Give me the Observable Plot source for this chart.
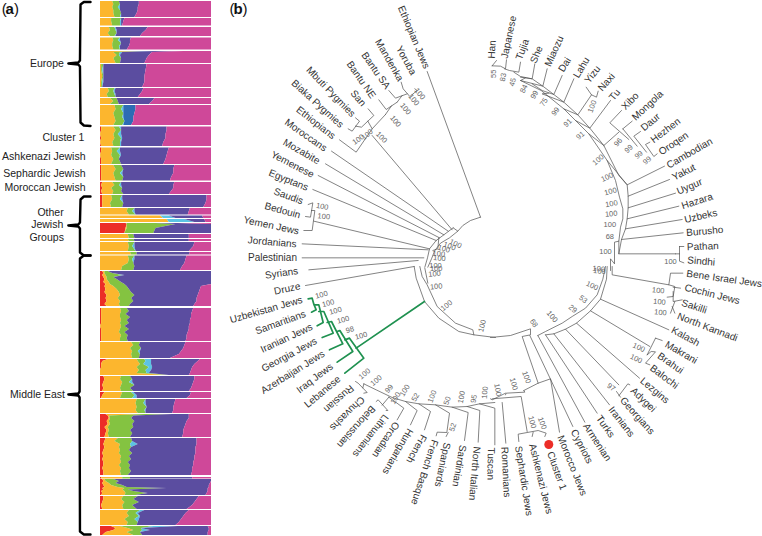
<!DOCTYPE html>
<html><head><meta charset="utf-8">
<script src="https://cdn.jsdelivr.net/npm/d3@7"></script>
<script src="https://cdn.jsdelivr.net/npm/@observablehq/plot@0.6"></script>
<style>html,body{margin:0;padding:0;background:#fff}#c{display:flex;width:762px;height:536px;overflow:hidden}svg{display:block;flex:none;overflow:visible}</style>
</head><body><div id="c"></div>
<script>
// ---------- panel (a): ancestry shares. Row = [y, red, orange, green, cyan, purple] cumulative %, pink fills to 100
const components = ["K1","K2","K3","K4","K5","K6","K7"];
const componentColors = ["#ec2d27","#fcb62e","#84c341","#5cc3e3","#2d6cb4","#5b4da0","#cf4899"];
const blocks = [
 [[1,0,11,17,17,35],[4,0,12,18,18,35],[7,0,11,16,18,34],[10,0,12,18,18,34],[13,0,12,19,19,33],[17,0,13,18,19,31]],
 [[18,0,10,19,19,22],[21,0,10,18,19,21],[25.5,0,11,18,19,20]],
 [[27,0,8,13,14,43],[30,0,9,14,15,41],[33,0,7,15,15,38],[36,0,9,13,14,36]],
 [[37.5,0,11,18,18,28],[40,0,12,16,18,27],[43,0,11,19,19,27],[46,0,11,17,18,26],[49.5,0,12,18,18,24]],
 [[51,0,39,39,50,75],[52,0,12,18,20,47],[55,0,15,17,18,44],[58,0,12,19,19,42],[63,0,14,18,18,40]],
 [[64,0,1,3,3,42],[70,0,1,2,3,41],[76,0,2,3,3,40],[82,0,1,2,3,40],[87,0,1,2,2,38]],
 [[88,0,7,13,14,39],[91,0,8,12,13,38],[94,0,6,13,14,36],[97,0,7,14,14,34]],
 [[98,0,9,15,15,49],[101,0,12,16,16,47],[104,0,9,17,17,44]],
 [[105,0,13,21,21,32],[109,0,14,19,21,32],[113,0,12,21,21,31],[117,0,13,20,21,30],[121,0,14,22,22,30],[125,0,12,20,21,28]],
 [[126.5,1,12,17,19,60],[130,1,14,19,19,60],[134,0,12,16,19,59],[138,1,13,19,20,59],[142,0,11,18,19,57],[146,1,12,18,19,56]],
 [[147.5,1,10,18,18,62],[151,1,11,15,18,61],[155,0,10,18,19,60],[159,1,12,17,17,59],[164,1,10,19,19,57]],
 [[165,1,12,19,19,67],[169,1,14,21,21,66],[173,1,12,18,20,66],[177,1,13,21,21,64],[180.5,1,14,20,20,63]],
 [[182,2,11,19,19,67],[185,1,13,17,19,66],[188,2,10,20,20,66],[191,1,12,19,19,64],[194,2,11,21,21,62]],
 [[195,2,10,20,20,96],[199,2,11,18,20,96],[203,2,9,21,21,95],[207,2,10,20,20,93]],
 [[208,0,25,31,31,81],[211,0,24,29,31,80],[214.5,0,26,32,32,79]],
 [[215.5,0,54,54,62,92],[218,0,57,57,68,93]],
 [[219,0,60,60,76,94],[222,0,62,62,85,95]],
 [[223,23,24,50,50,70],[224,24,24,68,68,100],[228,23,24,50,50,100],[233,22,22,48,48,100]],
 [[234,0,25,30,30,80],[238,0,26,31,31,80]],
 [[239,0,25,30,30,80],[241,0,26,31,31,80]],
 [[242,0,25,31,31,85],[246,0,26,29,31,84],[251,0,25,32,32,80]],
 [[252,0,27,33,33,81],[254.5,0,28,33,33,80]],
 [[255.5,0,25,31,31,78],[259,0,26,29,31,77],[263,0,25,30,30,76],[266,0,20,31,31,74],[270,0,19,30,30,72]],
 [[271,2,4,7,7,100],[273,3,4,11,11,100],[275,2,5,20,22,100],[277,3,6,12,12,100],[279,4,6,15,15,100],[282,3,8,19,19,100],[284,5,9,22,22,100],[286,4,12,24,24,91],[289,5,15,26,26,90],[292,4,17,28,28,89],[295,6,18,31,31,88],[298,5,16,28,28,87],[301,6,18,30,30,87],[304,4,17,27,27,85],[306,6,18,26,26,84]],
 [[308,1,18,24,24,84],[311,1,19,26,26,83],[314,1,18,23,23,82],[317,1,18,27,27,82],[320,1,19,24,24,81],[323,1,18,26,26,81],[326,0,19,22,22,80],[329,1,18,26,26,80],[332,1,17,22,22,79],[335,1,19,25,25,78],[338,1,18,24,24,78],[341,1,18,25,25,77]],
 [[342,0,28,36,36,77],[345,0,30,35,35,76],[348,0,27,37,37,75],[351,0,29,34,36,73],[354,0,28,36,36,71],[358,0,29,35,35,63]],
 [[359,7,33,40,46,90],[361,2,34,41,46,88],[364,1,36,39,46,85],[367,1,33,44,47,83],[370,0,35,41,46,82],[373,0,33,42,44,81],[375,0,60,62,62,80]],
 [[376,3,19,27,27,85],[379,4,18,29,29,85],[382,3,20,26,29,84],[385,2,19,31,31,83],[388,3,18,27,27,82],[391,2,19,30,30,80]],
 [[392,4,20,28,30,82],[395,2,19,31,33,81],[398,1,18,29,33,78]],
 [[399,0,33,41,41,68],[403,0,32,39,41,67],[407,0,33,42,42,66],[410,0,32,40,41,66],[413,0,34,41,41,65]],
 [[414,5,40,65,65,80],[415.5,7,8,30,30,80],[418,8,9,28,28,80],[421,6,8,31,31,78],[424,7,9,29,29,77],[427,4,7,30,30,76],[430,6,8,27,27,75],[433,5,7,29,29,75],[437,4,8,27,27,74]],
 [[438,5,16,28,28,87],[441,4,13,29,29,87],[444,3,18,27,34,87],[447,4,17,28,28,86],[450,3,18,26,26,86],[453,2,17,29,29,86],[456,3,19,26,26,85],[459,2,18,28,28,85],[462,3,19,25,25,84],[465,3,17,27,27,84],[468,2,19,26,26,83],[471,3,18,28,28,83],[475,3,19,25,25,82]],
 [[477,1,20,27,27,83],[478.5,1,20,27,27,83]],
 [[479,2,4,12,12,100],[481,3,5,17,17,100],[483,2,8,14,14,99],[485,3,10,20,20,98],[487,4,16,24,24,98],[488,2,22,60,60,97],[489.5,3,20,25,25,97],[491,1,22,30,30,97],[493,2,23,43,43,96],[495,1,22,32,32,95]],
 [[496,3,21,34,34,89],[499,3,19,30,30,87],[502,2,22,35,35,85],[505,1,20,29,29,83],[509,2,21,33,33,78]],
 [[510,0,26,36,40,80],[513,0,24,32,34,77],[516,0,26,35,36,75],[519,0,22,31,35,73],[522,0,25,34,34,71],[525,0,24,33,33,68]],
 [[526,10,18,48,70,97],[528,14,25,37,37,98],[530,12,30,38,45,98],[532,5,24,36,36,97],[535,2,30,38,38,97]]
];
const blueBlock = [8];
const barLabels = ["Europe","Cluster 1","Ashkenazi Jewish","Sephardic Jewish","Moroccan Jewish","Middle East"];
const barLabelX = [-33,-14.5,-13.5,-13.5,-13.5,-32];
const barLabelY = [63,137,156,173,187,394];
const groupLines = ["Other","Jewish","Groups"];
const groupLineX = [-45,-48,-48.5];
const groupLineY = [212,224,237];
const braces = [
 [[-9,1.5],[-15,1.5],[-18,4],[-18.5,60],[-20,62],[-29,63],[-20,64],[-18.5,66],[-18,122],[-15,125],[-9,125.5]],
 [[-9,196],[-15,196],[-18,199],[-18.5,222],[-20,224],[-29,225],[-20,226],[-18.5,228],[-18.5,252],[-15,255],[-9,255]],
 [[-9,255],[-15,255],[-18.5,258],[-18.8,391],[-20,393],[-29,394],[-20,395],[-18.8,397],[-18.5,531],[-15,534],[-9,534]]
];
// ---------- panel (b): tree drawn through x/y scales (three groups by quadrant)
const treeNW = [
 [[605,213],[765,650]],[[765,650],[735,660],[712,675],[697,692],[683,682]],
 [[440,405],[680,688]],
 [[568,265],[575,270],[553,288],[533,265],[527,245]],
 [[545,280],[510,293],[490,270]],[[530,285],[515,305]],
 [[515,305],[482,327],[460,298]],[[498,316],[480,342]],
 [[428,325],[445,345],[408,380],[390,377]],[[390,352],[402,362],[380,392],[368,385]],
 [[427,362],[440,385]],[[480,342],[440,385],[392,455],[342,418]],
 [[318,452],[668,692]],[[300,490],[655,703]],[[278,525],[642,712]],[[262,567],[632,720]],
 [[248,612],[262,607],[255,650],[240,648]],[[258,630],[268,630],[260,690],[235,690]],[[265,662],[612,745]],
 [[230,730],[608,748]],[[230,772],[595,772]],[[250,808],[578,780]],
 [[683,682],[655,703],[632,720],[612,745],[606,772],[598,800]],
 [[697,692],[672,712],[645,728],[628,750],[618,775],[607,800]],
 [[640,712],[637,745],[622,750]]
];
const treeSW = [
 [[240,57],[566,0]],
 [[566,0],[572,35],[597,105],[640,155],[700,195],[745,205],[810,213]],
 [[583,0],[590,30],[605,55],[635,120],[690,170],[742,190],[745,205]],
 [[598,5],[607,50]],
 [[415,352],[452,370],[500,393],[540,405],[580,412],[630,415],[680,422],[725,420],[762,412],[808,408]],
 [[390,345],[398,350],[425,378],[415,380]],[[412,364],[415,352]],
 [[452,405],[458,400],[487,432],[482,432]],[[470,416],[490,392]],[[490,392],[535,425],[515,460]],
 [[540,405],[575,432],[555,475]],[[580,412],[615,435],[597,490]],
 [[630,415],[672,440],[664,498],[635,497],[632,508]],[[662,510],[668,498]],
 [[680,422],[728,438],[717,522]],[[725,420],[763,432],[758,527]],[[762,412],[808,425],[808,535]]
];
const treeGreen = [
 [[248,97],[260,95],[265,113],[272,130],[258,137]],
 [[267,115],[280,115],[293,168],[275,178]],
 [[280,135],[295,135],[323,200],[290,213]],
 [[305,168],[318,165],[352,232],[312,250]],
 [[335,195],[343,192],[382,255],[335,287]],
 [[358,220],[372,215],[415,275],[358,320]],
 [[392,245],[597,105]]
];
const treeSE = [
 [[0,213],[60,207],[120,187],[120,205],[95,210],[143,350]],
 [[100,372],[143,350],[180,337],[207,497]],
 [[100,372],[103,377],[47,380],[45,385]],
 [[45,380],[5,400],[0,397]],
 [[5,397],[92,390],[110,495]],
 [[85,525],[83,503],[143,492],[167,500],[163,510]],[[125,510],[128,497]],
 [[35,408],[46,530]],
 [[118,207],[247,480]],[[142,207],[283,467]],[[165,205],[320,440]],[[190,202],[357,415]],
 [[225,188],[385,355]],[[258,170],[447,335]],[[300,133],[478,240]],[[330,98],[535,190]],
 [[385,388],[412,352],[418,355]],[[378,375],[390,392]],
 [[495,215],[515,222]],[[495,215],[470,265]],[[470,265],[482,255],[495,256],[465,290],[478,295]],
 [[165,205],[190,202],[225,188],[258,170],[300,133],[330,98],[348,38],[350,0]],
 [[142,207],[165,195],[215,170],[245,150],[285,125],[320,85],[337,38],[345,0]],
 [[365,0],[365,25],[535,55],[540,20],[577,20]],
 [[535,55],[553,60],[548,90],[530,92]],[[548,62],[570,65]],[[548,75],[548,105],[575,100]],[[545,120],[553,140]],[[553,105],[540,140]]
];
const treeNE = [
 [[5,196],[18,180]],[[5,196],[30,197],[45,205],[48,178]],[[42,205],[57,210],[85,215],[90,185]],
 [[70,215],[90,228],[125,235],[133,190]],[[105,232],[90,240],[157,257],[170,205]],
 [[125,250],[155,270],[190,282],[215,225]],[[175,278],[155,280],[220,305],[250,235]],
 [[220,325],[262,343],[303,283],[287,260]],[[303,283],[318,290],[323,272]],
 [[255,360],[298,383],[360,300]],
 [[340,435],[385,395]],[[393,330],[358,367],[415,417]],[[397,385],[440,437]],[[425,362],[397,385]],
 [[450,393],[430,407],[468,455]],[[478,425],[465,432],[490,468],[500,460]],
 [[295,400],[340,435]],[[350,480],[410,553],[522,497]],[[413,587],[537,537]],[[413,622],[555,578]],[[410,655],[565,617]],[[405,685],[575,657]],[[393,717],[578,697]],
 [[385,760],[555,760]],[[567,738],[580,738]],[[567,738],[567,782],[580,787]],[[555,760],[567,760]],
 [[90,230],[125,235],[157,257],[190,282],[220,305],[262,343],[298,383],[340,435],[385,525],[410,553],[413,587],[413,622],[410,655],[405,685],[393,717],[385,760],[385,722]],
 [[90,240],[152,270],[220,325],[255,360],[295,400],[350,480],[375,540],[387,590],[397,625],[397,655],[390,680],[385,722],[372,725],[372,790],[360,775],[360,810]]
];
const treeOffsets = {NW:[225,0],SW:[225,266],SE:[490,266],NE:[490,0]};
// taxon labels
const taxa = ["Ethiopian Jews","Yoruba","Mandenka","Bantu SA","Bantu NE","San","Mbuti Pygmies","Biaka Pygmies","Ethiopians","Moroccans","Mozabite","Yemenese","Egyptans","Saudis","Bedouin","Yemen Jews","Jordanians","Palestinian","Syrians","Druze","Uzbekistan Jews","Samaritians","Iranian Jews","Georgia Jews","Azerbaijan Jews","Iraq Jews","Lebanese","Russian","Chuvashs","Belorussian","Lithuanians","Orcadian","Hungarians","French","French Basque","Spaniards","Sardinian","North Italian","Tuscan","Romanians","Sephardic Jews","Ashkenazi Jews","Cluster 1","Morocco Jews","Cypriots","Armenian","Turks","Iranians","Georgians","Adygei","Lezgins","Balochi","Brahui","Makrani","Kalash","North Kannadi","Sakilli","Cochin Jews","Bene Israel Jews","Sindhi","Pathan","Burusho","Uzbeks","Hazara","Uygur","Yakut","Cambodian","Oroqen","Hezhen","Daur","Mongola","Xibo","Tu","Naxi","Yizu","Lahu","Dai","Miaozu","She","Tujia","Japanese","Han"];
const taxaX = [413.3,405.7,388.7,375.3,360.7,357.7,330.3,317,315.3,305.3,301,292,288,288,282,270.7,271.7,272,281,286.7,265.7,280,286,288.7,292.3,314.3,322,338.3,346.7,355.7,370,385.3,397.3,416,424,442,458.7,474,490.3,505.3,523.3,540.3,556.3,571.7,581.3,596.7,605,621,636.7,642.7,654.3,663.7,670,680.7,685,707,693.7,711.7,723.7,700.7,702.3,704.3,700.3,696.7,689,683.3,689,673,665,650,647,629.7,614.3,606,592,581,564.3,553.7,536,522,508.3,491.5];
const taxaY = [36.7,60,59.7,70,79.3,97.7,91.3,103.3,122.3,134.7,151,164,179.7,195.7,210,225,241.7,257.3,272.7,288.3,309.3,322,337.7,354.3,371.7,377.7,391.3,398.3,413,426.3,435.3,439.3,451,448.3,471.7,464.3,465.3,473,463.3,471.7,480.3,478.3,470.3,465,446,441.7,426,421.3,415.3,399.3,390,376.3,362.7,352,336,326.7,306,293.7,278.3,260.7,246,230.7,215.7,200.7,186,171.7,152.7,143,130,121.7,105,100.7,94.3,81.7,74,67,64.3,50.7,54,49,36.7,49];
const taxaAngle = [67,61,60,55,55,50,46,42,38,35,30,27,22,20,15,12,5,0,-8,-12,-16,-20,-25,-28,-32,-37,-40,139,135.5,131.5,128,123.5,120,119,108,102,100,95,91,87,81,76,70,68,63,57,55,52,48,44,40,37,35,30,28,21,18,14,8,5,-2,-5,-13,-18,-23,-27,-30,-34,-37,-40,-43,-46,-50,-49,-52,-59,-58,-66,-67,-70,-78,-87];
// bootstrap values
const boot = [100,100,100,100,100,100,100,100,100,100,100,100,100,100,100,100,100,100,100,100,100,100,98,100,100,100,99,100,100,52,100,50,52,100,95,100,100,100,100,100,100,68,100,100,100,29,53,100,100,97,100,100,100,100,100,55,83,45,84,99,75,99,91,91,100,100,100,100,100,100,68,100,100,100,96,99,99,99,100];
const bootX = [419.3,413.3,405,395,381,366.7,357.7,321.7,323.3,455,449,443.3,438.3,439,435,435.7,434,435.7,446,481.7,321,327.7,349.3,335,342.7,360.7,388.7,364,375.7,415,404.3,446.7,452.3,395,473.3,431.7,461,484.3,497.3,513.3,526,533.3,531.7,541.7,551.7,572.3,582.7,591.7,599,610.7,638.3,635.7,657.7,659,660,492.7,502.7,512.3,523.3,534,543.3,555,567.3,580,597.7,606.7,610,611,610.7,609.3,609.3,605,598.3,591.7,617.7,628.3,638.3,646.7,670];
const bootY = [93.3,99.3,108.3,120.7,136.7,134,139,206,216,243.3,245.7,248.3,253.3,257.7,265,268,273.3,286,305,325.3,294.3,302.7,329.3,310.3,319.3,335.3,388.3,373.3,380,396.7,390,400.3,426.7,397.7,398.3,396,396.7,392,389.3,383.3,376.7,322.7,421.7,422.7,316,308.3,298.7,285.3,270.7,386.7,347,358.3,290,301.3,312,73.3,76.7,81.7,88.3,94.3,101.7,111,122.3,135,159.3,176.7,191,203.3,213.3,224.3,235.7,251,268.3,106,141.7,148.3,154.3,160,261];
const bootAngle = [50,50,50,50,45,-40,-35,10,5,25,20,15,5,5,0,0,-5,-5,-40,-75,-15,-15,-15,-15,-15,-15,-50,-40,-40,-60,-60,-70,-70,-60,-80,-70,-80,-85,80,75,70,55,75,70,50,40,35,25,5,35,25,25,5,5,5,-90,-80,-75,-65,-60,-55,-50,-45,-40,-40,-25,-15,-10,-5,0,0,0,5,-70,-50,-45,-40,-40,0];
const clusterDot = {x:548.3,y:444};
const taxaTable = taxa.map((t,i)=>({t,x:taxaX[i],y:taxaY[i],a:taxaAngle[i]}));
const bootTable = boot.map((t,i)=>({t,x:bootX[i],y:bootY[i],a:bootAngle[i]}));

// build panel (a) tidy table
const barRows = [];
blocks.forEach((rows,b)=>{
  rows.forEach(r=>{
    const [y,red,o,g,c,p]=r;
    const purple = blueBlock.includes(b) ? "K5" : "K6";
    [["K1",0,red],["K2",red,o],["K3",o,g],["K4",g,c],[purple,c,p],["K7",p,100]].forEach(([k,a,e])=>{
      barRows.push({k,a,e,y,z:b+k});
    });
  });
});
const font = '"Liberation Sans",Arial,sans-serif';
const braceRows = braces.flatMap((pts,i)=>pts.map(([x,y])=>({x,y,i})));
const barPlot = Plot.plot({
  width:225,height:536,margin:0,
  x:{domain:[0,100],range:[100,211],axis:null},
  y:{domain:[0,536],range:[0,536],axis:null},
  color:{domain:components,range:componentColors},
  style:{fontFamily:font,background:"transparent"},
  marks:[
    Plot.areaX(barRows,{x1:"a",x2:"e",y:"y",z:"z",fill:"k"}),
    Plot.line(braceRows,{x:"x",y:"y",z:"i",stroke:"#000",strokeWidth:2.4,curve:"linear"}),
    Plot.text(barLabels,{x:(d,i)=>barLabelX[i],y:(d,i)=>barLabelY[i],text:d=>d,textAnchor:"end",fontSize:10.5,fill:"#222"}),
    Plot.text(groupLines,{x:(d,i)=>groupLineX[i],y:(d,i)=>groupLineY[i],text:d=>d,fontSize:10.5,fill:"#222"}),
    Plot.text(["("],{x:[-89],y:[9],text:d=>d,textAnchor:"start",fontSize:15,fill:"#111"}),
    Plot.text(["a"],{x:[-85.5],y:[9],text:d=>d,textAnchor:"start",fontSize:15,fontWeight:"bold",fill:"#111"}),
    Plot.text([")"],{x:[-78],y:[9],text:d=>d,textAnchor:"start",fontSize:15,fill:"#111"})
  ]
});
const toRows = (edges,key)=>edges.flatMap((pts,i)=>pts.map(([x,y])=>({x:treeOffsets[key][0]+x/3,y:treeOffsets[key][1]+y/3,i:key+i})));
const grey = [...toRows(treeNW,"NW"),...toRows(treeSW,"SW"),...toRows(treeSE,"SE"),...toRows(treeNE,"NE")];
const green = toRows(treeGreen,"SW");
const treePlot = Plot.plot({
  width:537,height:536,margin:0,
  x:{domain:[225,762],range:[0,537],axis:null},
  y:{domain:[0,536],range:[0,536],axis:null},
  style:{fontFamily:font,background:"transparent"},
  marks:[
    Plot.line(grey,{x:"x",y:"y",z:"i",stroke:"#4d4d4d",strokeWidth:0.7,curve:"linear"}),
    Plot.line(green,{x:"x",y:"y",z:"i",stroke:"#1f9150",strokeWidth:1.7,curve:"linear"}),
    Plot.dot([clusterDot],{x:"x",y:"y",r:4.5,fill:"#ec2d27"}),
    Plot.text(taxaTable,{x:"x",y:"y",text:"t",rotate:"a",fontSize:10,fill:"#333"}),
    Plot.text(bootTable,{x:"x",y:"y",text:"t",rotate:"a",fontSize:7.5,fill:"#666"}),
    Plot.text(["("],{x:[229],y:[9],text:d=>d,textAnchor:"start",fontSize:15,fill:"#111"}),
    Plot.text(["b"],{x:[233],y:[9],text:d=>d,textAnchor:"start",fontSize:15,fontWeight:"bold",fill:"#111"}),
    Plot.text([")"],{x:[242],y:[9],text:d=>d,textAnchor:"start",fontSize:15,fill:"#111"})
  ]
});
document.getElementById("c").append(barPlot,treePlot);
</script></body></html>
